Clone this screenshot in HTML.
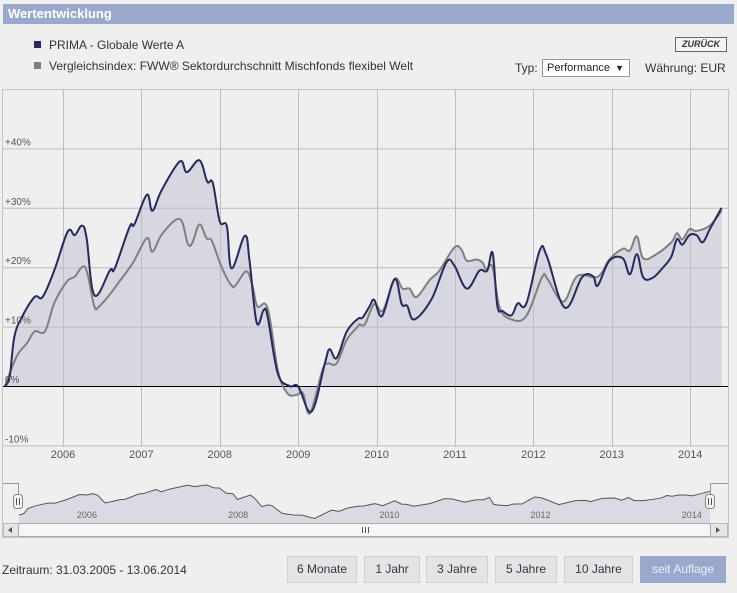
<!DOCTYPE html>
<html><head><meta charset="utf-8">
<style>
body{margin:0;width:737px;height:593px;background:#efefef;font-family:"Liberation Sans",sans-serif;overflow:hidden;position:relative}
.abs{position:absolute}
.hdr{left:3px;top:4px;width:731px;height:20px;background:#9aa9cb;color:#fff;font-weight:bold;font-size:13px;line-height:20px;padding-left:5px;box-sizing:border-box}
.leg{font-size:12px;color:#333}
.sq{display:inline-block;width:7px;height:7px;margin-right:8px;vertical-align:1px}
.btn{top:556px;height:27px;background:#e4e4e4;border:1px solid #d0d0d0;box-sizing:border-box;font-size:12px;color:#334;text-align:center;line-height:25px}
</style></head><body>
<div class="abs hdr">Wertentwicklung</div>
<div class="abs leg" style="left:34px;top:38px"><span class="sq" style="background:#262a5c"></span>PRIMA - Globale Werte A</div>
<div class="abs leg" style="left:34px;top:59px"><span class="sq" style="background:#7f7f7f"></span>Vergleichsindex: FWW® Sektordurchschnitt Mischfonds flexibel Welt</div>
<div class="abs" style="left:675px;top:37px;width:50px;height:13px;border:1px solid #666;font-size:9px;font-weight:bold;font-style:italic;color:#333;text-align:center;line-height:13px;background:#f4f4f4">ZURÜCK</div>
<div class="abs leg" style="left:515px;top:61px">Typ:</div>
<div class="abs" style="left:542px;top:59px;width:88px;height:18px;border:1px solid #999;background:#fff;box-sizing:border-box;font-size:11px;line-height:16px;padding-left:4px;color:#222">Performance<span style="position:absolute;right:5px;font-size:9px">▼</span></div>
<div class="abs leg" style="left:645px;top:61px">Währung: EUR</div>

<svg class="abs" style="left:0;top:0" width="737" height="593" id="chart"></svg>

<div class="abs leg" style="left:2px;top:563px">Zeitraum: 31.03.2005 - 13.06.2014</div>
<div class="abs btn" style="left:287px;width:70px">6 Monate</div>
<div class="abs btn" style="left:364px;width:56px">1 Jahr</div>
<div class="abs btn" style="left:426px;width:62px">3 Jahre</div>
<div class="abs btn" style="left:495px;width:62px">5 Jahre</div>
<div class="abs btn" style="left:564px;width:69px">10 Jahre</div>
<div class="abs btn" style="left:640px;width:86px;background:#9aa9cb;border-color:#9aa9cb;color:#eef">seit Auflage</div>

<script>
const fundDates=[2005.26,2005.32,2005.38,2005.48,2005.64,2005.74,2005.89,2006.06,2006.15,2006.24,2006.30,2006.40,2006.60,2006.66,2006.85,2006.91,2007.07,2007.14,2007.26,2007.49,2007.58,2007.74,2007.84,2007.91,2008.00,2008.09,2008.15,2008.32,2008.38,2008.47,2008.56,2008.61,2008.74,2008.89,2009.00,2009.17,2009.34,2009.40,2009.49,2009.62,2009.76,2009.82,2009.91,2009.97,2010.07,2010.23,2010.32,2010.39,2010.48,2010.70,2010.89,2010.99,2011.15,2011.31,2011.41,2011.48,2011.54,2011.61,2011.72,2011.80,2011.91,2012.08,2012.17,2012.40,2012.62,2012.76,2012.82,2012.97,2013.14,2013.23,2013.32,2013.40,2013.52,2013.65,2013.76,2013.83,2013.90,2013.99,2014.08,2014.16,2014.25,2014.40];
const fundValues=[0,1.6,8.3,11.7,15,15,19.5,26,25.4,27,25,15.3,19.5,19.8,26.8,27.2,32.2,29.5,33,37.8,36,38,34.4,34.2,27.7,26.9,19.8,25.3,21,10.7,12.8,11.7,2.1,0,-0.1,-4.3,3.8,6.2,4.7,9.2,11.3,11.5,13.4,14.5,11.8,18,13.8,13.5,11.2,14.6,20.8,20.3,16.4,19.4,19.4,22.4,13.5,12.6,11.9,13.9,13.9,22.8,21.9,13.2,18.3,18.5,16.9,21.1,21.5,18.8,22.2,18.3,18.2,19.9,21.8,24.7,23.8,25.4,25.4,24.2,26.4,30];
const benchDates=[2005.26,2005.41,2005.54,2005.64,2005.77,2005.89,2006.05,2006.15,2006.25,2006.31,2006.40,2006.46,2006.59,2006.72,2006.89,2007.07,2007.14,2007.27,2007.49,2007.59,2007.65,2007.74,2007.83,2007.90,2008.02,2008.15,2008.21,2008.34,2008.42,2008.48,2008.61,2008.74,2008.86,2008.98,2009.06,2009.15,2009.31,2009.38,2009.49,2009.62,2009.76,2009.78,2009.85,2009.97,2010.08,2010.23,2010.33,2010.42,2010.51,2010.68,2010.80,2010.99,2011.08,2011.15,2011.27,2011.35,2011.40,2011.48,2011.57,2011.72,2011.91,2012.11,2012.18,2012.38,2012.56,2012.82,2012.97,2013.14,2013.23,2013.32,2013.40,2013.57,2013.76,2013.83,2013.90,2013.99,2014.08,2014.25,2014.40];
const benchValues=[0,5,7.2,9.2,9.2,14,17.6,18.4,20.1,19,13.4,13.4,15.3,17.6,20.7,24.9,22.6,25.7,28.1,24,24.1,27.2,24.9,24.4,20.1,16.9,17.1,19.3,16.7,13.4,13.1,2.7,-1.2,-1.5,-1.2,-4.6,2.7,3.8,3.8,7.8,10,10.4,10.4,13.8,12.7,18,16.4,16.4,15,17.9,19.4,23.3,23,21.1,21.3,20.8,19.6,20,13.2,11.2,11.8,18.3,18,14.2,18.5,18.4,21.3,23.1,22.8,25.2,21.5,22.2,24.2,25.7,24.7,26.4,26.1,27,29.5];
const yTicks=[-10,0,10,20,30,40];
const yTickLabels=["-10%","0%","+10%","+20%","+30%","+40%"];
const xYears=[2006,2007,2008,2009,2010,2011,2012,2013,2014];
const navYears=[2006,2008,2010,2012,2014];

const NS="http://www.w3.org/2000/svg";
const svg=document.getElementById('chart');
function el(t,a,p){const e=document.createElementNS(NS,t);for(const k in a)e.setAttribute(k,a[k]);(p||svg).appendChild(e);return e;}
const X=d=>63+(d-2006)*78.4;
const Y=v=>386-v*5.94;
function spline(pts){let d="M"+pts[0][0]+","+pts[0][1];for(let i=0;i<pts.length-1;i++){const p0=pts[i-1]||pts[i],p1=pts[i],p2=pts[i+1],p3=pts[i+2]||p2;const t=0.18;d+=" C"+(p1[0]+(p2[0]-p0[0])*t)+","+(p1[1]+(p2[1]-p0[1])*t)+" "+(p2[0]-(p3[0]-p1[0])*t)+","+(p2[1]-(p3[1]-p1[1])*t)+" "+p2[0]+","+p2[1];}return d;}

const frame=el('rect',{x:2.5,y:89.5,width:726,height:448,fill:'none',stroke:'#c4c4cc'});

const fp=fundDates.map((d,i)=>[X(d),Y(fundValues[i])]);
const bp=benchDates.map((d,i)=>[X(d),Y(benchValues[i])]);
[bp,fp].forEach(p=>{const a=el('path',{d:spline(p)+" L"+p[p.length-1][0]+","+Y(0)+" L"+p[0][0]+","+Y(0)+" Z",fill:'#d6d7e0'});});
yTicks.forEach((t,i)=>{if(t!==0){const g=el('line',{x1:3,x2:728,y1:Y(t)+0.5,y2:Y(t)+0.5,stroke:'#bdbdc2'});}});
xYears.forEach(y=>{const g=el('line',{x1:Math.round(X(y))+0.5,x2:Math.round(X(y))+0.5,y1:90,y2:447,stroke:'#bdbdc2'});
const t=el('text',{x:X(y),y:458,'text-anchor':'middle','font-size':11,fill:'#555'});t.textContent=y;});
const z=el('line',{x1:3,x2:728,y1:Y(0)+0.5,y2:Y(0)+0.5,stroke:'#000'});
const lb=el('path',{d:spline(bp),fill:'none',stroke:'#808080','stroke-width':2});
const lf=el('path',{d:spline(fp),fill:'none',stroke:'#262a5c','stroke-width':2});
yTicks.forEach((t,i)=>{const tx=el('text',{x:5,y:Y(t)-3,'font-size':10,fill:'#555'});tx.textContent=yTickLabels[i];});

const NX=d=>19+(d-2005.26)*(691/9.14);
const NY=v=>519-(v+5)*(34/43);
const np=fundDates.map((d,i)=>[NX(d),NY(fundValues[i])]);
const na=el('path',{d:"M"+np.map(p=>p.join(",")).join(" L")+" L710,523 L19,523 Z",fill:'#d9dae2',stroke:'none'});
const nl=el('path',{d:"M"+np.map(p=>p.join(",")).join(" L"),fill:'none',stroke:'#555','stroke-width':1});
el('path',{d:"M3,483.5 H18.5 V495 M710.5,495 V483.5 H728",fill:'none',stroke:'#999'});
navYears.forEach(y=>{const t=el('text',{x:NX(y)+12,y:518,'text-anchor':'middle','font-size':9,fill:'#666'});t.textContent=y;});
[18,710].forEach(x=>{const h=el('rect',{x:x-4.5,y:494.5,width:9,height:14,rx:3,fill:'#f4f4f4',stroke:'#888'});el('path',{d:`M${x-1.5},498 V505 M${x+1.5},498 V505`,stroke:'#555'});});
const sb=el('rect',{x:3.5,y:523.5,width:724,height:13,fill:'#e6e6e6',stroke:'#bbb'});
const th=el('rect',{x:18.5,y:523.5,width:692,height:13,rx:2,fill:'#f6f6f6',stroke:'#aaa'});
el('path',{d:"M362.5,527 V533 M365.5,527 V533 M368.5,527 V533",stroke:'#555'});
const al=el('path',{d:"M12,527 L8,530 L12,533 Z",fill:'#555'});
const ar=el('path',{d:"M716,527 L720,530 L716,533 Z",fill:'#555'});
</script>
</body></html>
